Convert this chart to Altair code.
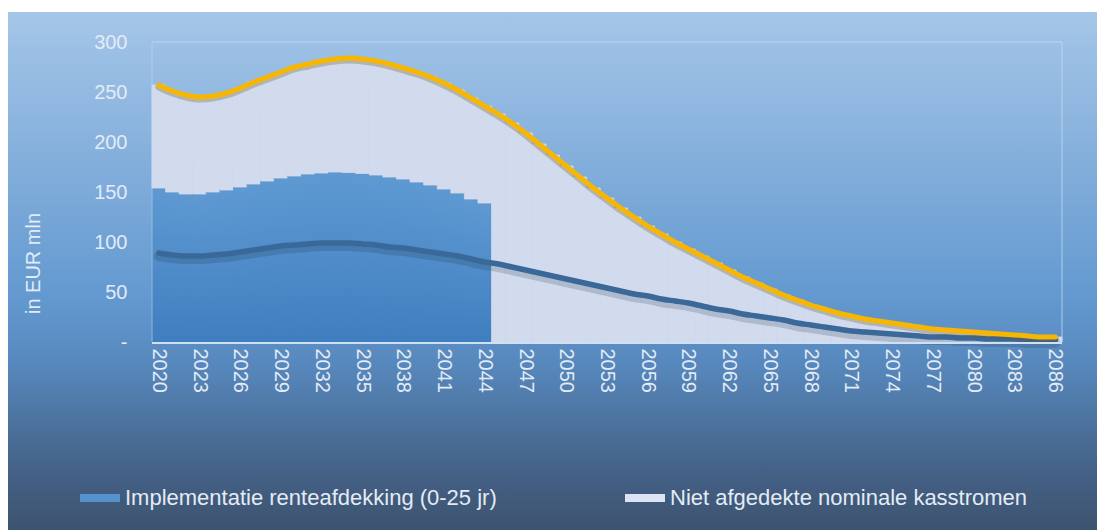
import altair as alt
import pandas as pd

# ---- data ----
years = list(range(2020, 2087))
# hedged part (dark bars), only for 2020-2044
hedged = [154, 150, 148, 148, 150, 152, 155, 158, 161, 164, 166, 168, 169,
          170, 169.5, 168.5, 167, 165, 163, 160, 157, 153, 149, 143, 139]
# total nominal cash flows (yellow line / top of light bars)
total = [257, 251, 247, 245, 246, 249, 254, 260, 265, 270, 275, 278, 281,
         283, 284, 283, 281, 278, 274, 270, 265, 259, 252, 244, 236,
         228, 219, 209, 198, 187, 176, 165, 154, 144, 134, 125, 116, 108,
         100, 93, 86, 79, 72, 65, 59, 53, 47, 42, 37, 33, 29, 26, 23, 21,
         19, 17, 15, 13, 12, 11, 10, 9, 8, 7, 6, 5, 5]
# second line (dark blue)
real_cf = [89, 87, 86, 86, 87, 88, 90, 92, 94, 96, 97, 98, 99, 99, 99, 98,
           97, 95, 94, 92, 90, 88, 86, 83, 80, 78, 75, 72, 69, 66, 63, 60,
           57, 54, 51, 48, 46, 43, 41, 39, 36, 33, 31, 28, 26, 24, 22, 19,
           17, 15, 13, 11, 10, 9, 8, 7, 6, 5, 5, 4, 4, 3, 3, 3, 2, 2, 2]
series = ["Implementatie renteafdekking (0-25 jr)",
          "Niet afgedekte nominale kasstromen"]
tick_years = [2020, 2023, 2026, 2029, 2032, 2035, 2038, 2041, 2044, 2047,
              2050, 2053, 2056, 2059, 2062, 2065, 2068, 2071, 2074, 2077,
              2080, 2083, 2086]
y_ticks = [0, 50, 100, 150, 200, 250, 300]

rows = []
for i, yr in enumerate(years):
    h = hedged[i] if i < len(hedged) else 0
    rows.append({"year": yr, "series": series[0], "value": h, "ord": 0})
    rows.append({"year": yr, "series": series[1], "value": total[i] - h, "ord": 1})
bars_df = pd.DataFrame(rows)
lines_df = pd.DataFrame({"year": years, "total": total, "real": real_cf})
legend_df = pd.DataFrame({"series": series})

FONT = "Liberation Sans"
TXT = "#E3EBF6"
W, H = 910, 300
PL, PT, PR, PB = 152, 42, 35, 188
LIGHT_BAR = "#D2DBED"

one = alt.Data(values=[{}])

bg = alt.Chart(one).mark_rect(
    color=alt.Gradient(
        gradient="linear", x1=0, x2=0, y1=0, y2=1,
        stops=[
            alt.GradientStop(offset=0.0, color="#A4C6E8"),
            alt.GradientStop(offset=0.25, color="#88B2DD"),
            alt.GradientStop(offset=0.55, color="#6399D0"),
            alt.GradientStop(offset=0.68, color="#5788BD"),
            alt.GradientStop(offset=0.80, color="#4B719C"),
            alt.GradientStop(offset=0.90, color="#435F84"),
            alt.GradientStop(offset=1.0, color="#3D546E"),
        ],
    )
).encode(
    x=alt.value(8 - PL), x2=alt.value(1097 - PL),
    y=alt.value(12 - PT), y2=alt.value(530 - PT),
)

x_enc = alt.X(
    "year:O",
    scale=alt.Scale(paddingInner=0, paddingOuter=0),
    axis=alt.Axis(
        values=tick_years, labelAngle=90, labelFontSize=20, labelFont=FONT,
        labelColor=TXT, ticks=False, domain=False, labelPadding=6,
        title=None, zindex=1, labelOverlap=False,
    ),
)

dark_grad = alt.Gradient(
    gradient="linear", x1=0, x2=0, y1=0, y2=1,
    stops=[
        alt.GradientStop(offset=0.0, color="#5E99D2"),
        alt.GradientStop(offset=1.0, color="#3F7EBF"),
    ],
)

bars = alt.Chart(bars_df).mark_bar(strokeWidth=0.8).encode(
    x=x_enc,
    y=alt.Y(
        "value:Q", stack="zero",
        scale=alt.Scale(domain=[0, 300], nice=False),
        axis=alt.Axis(
            values=y_ticks, labelExpr="datum.value == 0 ? '-' : datum.label",
            labelFontSize=20, labelFont=FONT, labelColor=TXT, ticks=False,
            domain=False, grid=False, labelPadding=25, zindex=1,
            title="in EUR mln", titleFont=FONT, titleFontSize=20,
            titleFontWeight="normal", titleColor=TXT, titleX=-119, titleY=221,
            titleAlign="center", titleBaseline="middle", titleAngle=-90,
        ),
    ),
    fill=alt.condition(alt.datum.ord == 0, alt.value(dark_grad), alt.value(LIGHT_BAR)),
    stroke=alt.condition(alt.datum.ord == 0, alt.value(dark_grad), alt.value(LIGHT_BAR)),
    order=alt.Order("ord:Q", sort="ascending"),
)

legend_layer = alt.Chart(legend_df).mark_square(opacity=0, size=1).encode(
    x=alt.value(0), y=alt.value(0),
    color=alt.Color(
        "series:N",
        scale=alt.Scale(domain=series, range=["#5592CD", "#DCE3F2"]),
        legend=alt.Legend(
            orient="none", legendX=80 - PL, legendY=478 - PT,
            direction="horizontal", title=None,
            symbolType="M-1,-0.2H1V0.2H-1Z", symbolSize=1600,
            symbolStrokeWidth=0, symbolOpacity=1,
            labelFont=FONT, labelFontSize=22, labelColor=TXT,
            labelLimit=0, labelOffset=5, columnPadding=128,
        ),
    ),
)

base_line = alt.Chart(lines_df).encode(x=alt.X("year:O"))

yellow_shadow = base_line.mark_line(
    color="#6B5A2A", strokeWidth=7, opacity=0.3, yOffset=2,
    interpolate="monotone", strokeCap="round",
).encode(y="total:Q")
yellow = base_line.mark_line(
    color="#F7B602", strokeWidth=5, interpolate="monotone", strokeCap="round",
).encode(y="total:Q")
dark_shadow = base_line.mark_line(
    color="#1E3550", strokeWidth=10, opacity=0.2, yOffset=3,
    interpolate="monotone", strokeCap="round",
).encode(y="real:Q")
dark = base_line.mark_line(
    color="#3A6898", strokeWidth=5.5, interpolate="monotone", strokeCap="round",
).encode(y="real:Q")

frame_top = alt.Chart(one).mark_rule(color="#C6D9EE", strokeWidth=1, opacity=0.8).encode(
    x=alt.value(0), x2=alt.value(W), y=alt.value(0))
frame_left = alt.Chart(one).mark_rule(color="#C6D9EE", strokeWidth=1, opacity=0.6).encode(
    x=alt.value(0), y=alt.value(0), y2=alt.value(H))
frame_right = alt.Chart(one).mark_rule(color="#C6D9EE", strokeWidth=1, opacity=0.8).encode(
    x=alt.value(W), y=alt.value(0), y2=alt.value(H))
frame_bottom = alt.Chart(one).mark_rule(color="#CFE0F3", strokeWidth=2).encode(
    x=alt.value(0), x2=alt.value(W), y=alt.value(H + 1))

chart = alt.layer(
    bg, bars, legend_layer, frame_left, frame_top, frame_right,
    dark_shadow, dark, yellow_shadow, yellow, frame_bottom,
).properties(
    width=W, height=H,
    autosize=alt.AutoSizeParams(type="none"),
    padding={"left": PL, "top": PT, "right": PR, "bottom": PB},
).configure(
    background="white",
).configure_view(
    stroke=None,
)

chart.save("out.html", embed_options={"renderer": "svg", "actions": False})
